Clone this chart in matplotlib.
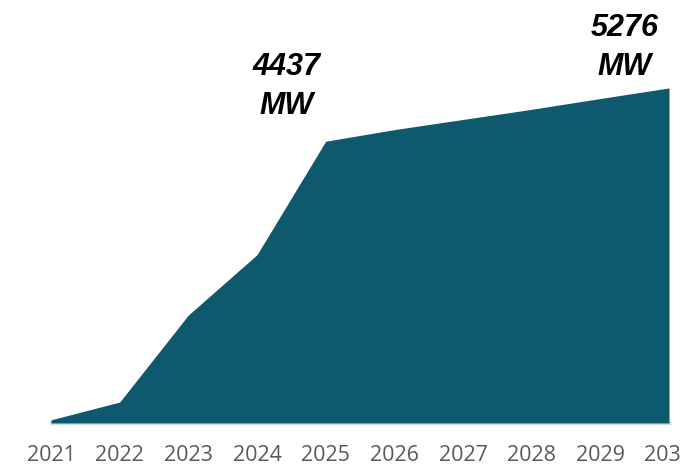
import matplotlib.pyplot as plt

years = [2021, 2022, 2023, 2024, 2025, 2026, 2027, 2028, 2029, 2030]
capacity_mw = [50, 330, 1700, 2650, 4437, 4620, 4780, 4940, 5110, 5276]
labels = {2025: "4437\nMW", 2030: "5276\nMW"}

fig = plt.figure(figsize=(6.81, 4.66), dpi=100)
ax = fig.add_axes([0.0749, 0.0923, 0.9075, 0.8176])

ax.fill_between(years, capacity_mw, 0, color="#0f596e", linewidth=0, zorder=3)

ax.set_xlim(2021, 2030)
ax.set_ylim(0, 6000)
ax.set_xticks(years)
ax.set_xticklabels([str(y) for y in years], family="Open Sans", fontsize=15.5,
                   color="#595959")
ax.set_yticks([])
ax.tick_params(axis="x", length=0, pad=15.5)
for side in ("top", "left", "right"):
    ax.spines[side].set_visible(False)
ax.spines["bottom"].set_color("#d3dce0")
ax.spines["bottom"].set_linewidth(2.5)
for lbl in ax.get_xticklabels():
    lbl.set_clip_on(False)

# value callouts above the two milestone years
offsets = {2025: (-39, 20), 2030: (-44, 6)}
for yr, txt in labels.items():
    v = capacity_mw[years.index(yr)]
    ax.annotate(txt, xy=(yr, v), xytext=offsets[yr], textcoords="offset pixels",
                ha="center", va="bottom", family="Liberation Sans",
                fontsize=22, fontweight="bold", fontstyle="italic",
                color="black", linespacing=1.4, annotation_clip=False)

fig.savefig("out.png", dpi=100)
